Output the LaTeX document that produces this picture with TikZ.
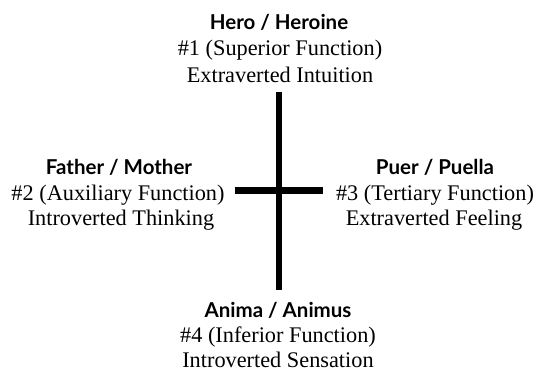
\documentclass[tikz,border=0pt]{standalone}
\usepackage{fontspec}
\setmainfont{Liberation Serif}
\newfontfamily\archfont{Lato}
\usepackage{tikz}
\tikzset{archetype/.style={font=\archfont\bfseries\fontsize{20.5}{24}\selectfont,anchor=base,inner sep=0pt},
 function/.style={font=\fontsize{22.3}{26}\selectfont,anchor=base,inner sep=0pt},
 bar/.style={draw=black,line width=6.5pt},
 }

\begin{document}
\begin{tikzpicture}[x=1pt,y=-1pt]
        \useasboundingbox (0,0) rectangle (542,372);
        % superior
        \node[archetype] (hero) at (279,29) {Hero / Heroine};
        \node[function] (heroNum) at (280,56) {\#1 (Superior Function)};
        \node[function] (heroType) at (280,82) {Extraverted Intuition};
        % auxiliary
        \node[archetype] (father) at (119,174) {Father / Mother};
        \node[function] (fatherNum) at (118,200) {\#2 (Auxiliary Function)};
        \node[function] (fatherType) at (121,225) {Introverted Thinking};
        % tertiary
        \node[archetype] (puer) at (435,174) {Puer / Puella};
        \node[function] (puerNum) at (435,200) {\#3 (Tertiary Function)};
        \node[function] (puerType) at (434,225) {Extraverted Feeling};
        % inferior
        \node[archetype] (anima) at (278,317) {Anima / Animus};
        \node[function] (animaNum) at (278,342) {\#4 (Inferior Function)};
        \node[function] (animaType) at (278,367) {Introverted Sensation};
        % cross
        \coordinate (top) at (279,92);
        \coordinate (bottom) at (279,290);
        \coordinate (left) at (235,190.5);
        \coordinate (right) at (323,190.5);
        \draw[bar] (top) -- (bottom);
        \draw[bar] (left) -- (right);
    \end{tikzpicture}
\end{document}
